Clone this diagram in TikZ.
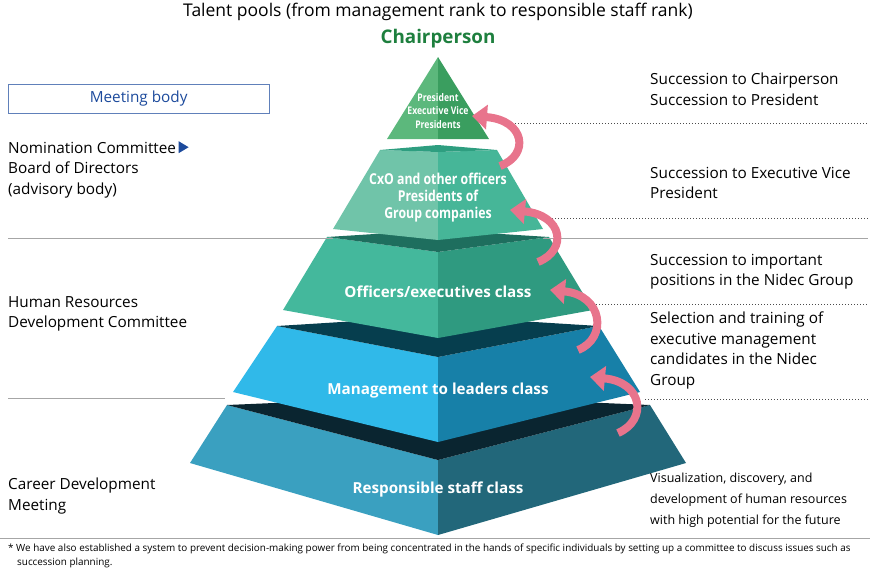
\documentclass[tikz,border=0pt]{standalone}
\usepackage{fontspec}
\setmainfont{Open Sans}
\usetikzlibrary{positioning, arrows.meta}
\definecolor{gA}{HTML}{5CB87C}\definecolor{gB}{HTML}{3A9E5F}
\definecolor{tA}{HTML}{70C4A9}\definecolor{tB}{HTML}{46B698}\definecolor{tT}{HTML}{2E9E80}
\definecolor{oA}{HTML}{44B89C}\definecolor{oB}{HTML}{2F9A80}\definecolor{oT}{HTML}{1E6E5E}
\definecolor{mA}{HTML}{30B9E9}\definecolor{mB}{HTML}{1780A8}\definecolor{mT}{HTML}{063E4E}
\definecolor{rA}{HTML}{3AA0C0}\definecolor{rB}{HTML}{22677A}\definecolor{rT}{HTML}{0A2530}
\definecolor{pinkarr}{HTML}{E8748C}\definecolor{chair}{HTML}{1E7F3E}\definecolor{navy}{HTML}{1C4A9C}
\newcommand{\navytri}{\tikz[x=1pt, y=1pt, baseline=0pt]\fill[navy] (0,0) -- (0,12) -- (10,6) -- cycle;}
\newcommand{\narrow}[1]{\scalebox{0.82}[1]{#1}}
\begin{document}
\begin{tikzpicture}[x=1pt, y=-1pt,
                    tier/.style={text=white, font=\bfseries\fontsize{15.2}{17}\selectfont, align=center},
                    side/.style={anchor=north west, align=left, font=\fontsize{15.3}{20.5}\selectfont, inner sep=0pt},
                    promo/.style={pinkarr, line width=8pt, -{Triangle[length=15pt, width=24pt]}},
                    level/.style={gray!70, line width=0.8pt},
                    dots/.style={black!70, dotted, line width=1pt}]

    \useasboundingbox (0,0) rectangle (870,579);

    % Pyramid faces
    \fill[rA] (227,405) -- (438,460) -- (438,535) -- (190,463) -- cycle;
    \fill[rB] (438,460) -- (650,405) -- (686,463) -- (438,535) -- cycle;
    \fill[rT] (227,405) -- (438,396) -- (650,405) -- (438,460) -- cycle;
    \fill[mA] (277,326) -- (438,357) -- (438,442) -- (233,392) -- cycle;
    \fill[mB] (438,357) -- (599,326) -- (640,392) -- (438,442) -- cycle;
    \fill[mT] (277,326) -- (438,316) -- (599,326) -- (438,357) -- cycle;
    \fill[oA] (327,237) -- (438,252) -- (438,338) -- (283,310) -- cycle;
    \fill[oB] (438,252) -- (549,237) -- (593,310) -- (438,338) -- cycle;
    \fill[oT] (327,237) -- (438,230) -- (549,237) -- (438,252) -- cycle;
    \fill[tA] (380,150) -- (438,152) -- (438,240) -- (333,229) -- cycle;
    \fill[tB] (438,152) -- (497,150) -- (543,229) -- (438,240) -- cycle;
    \fill[tT] (380,150) -- (438,145) -- (497,150) -- (438,152) -- cycle;
    \fill[gA] (438,57) -- (438,139) -- (387,139) -- cycle;
    \fill[gB] (438,57) -- (489,139) -- (438,139) -- cycle;

    % Level lines
    \draw[level] (8,238) -- (333,238);
    \draw[level] (543,238) -- (868,238);
    \draw[level] (8,398) -- (225,398);
    \draw[level] (0,538) -- (870,538);
    \draw[dots] (500,123) -- (868,123);
    \draw[dots] (540,218) -- (868,218);
    \draw[dots] (590,304) -- (868,304);
    \draw[dots] (645,399) -- (868,399);

    % Tier labels
    \node[tier, font=\bfseries\fontsize{10.5}{13.5}\selectfont] (top) at (438,111) {\narrow{President}\\\narrow{Executive Vice}\\\narrow{Presidents}};
    \node[tier, font=\bfseries\fontsize{15}{17}\selectfont] (cxo) at (438,198) {\narrow{CxO and other officers}\\\narrow{Presidents of}\\\narrow{Group companies}};
    \node[tier] (officers) at (438,292) {Officers/executives class};
    \node[tier] (managers) at (438,391) {Management to leaders class};
    \node[tier] (staff) at (438,490) {Responsible staff class};

    % Promotion arrows
    \draw[promo] (500,166) .. controls (530,155) and (525,120) .. (472,116);
    \draw[promo] (538,262) .. controls (568,250) and (563,215) .. (510,210);
    \draw[promo] (578,350) .. controls (608,338) and (603,295) .. (550,290);
    \draw[promo] (618,433) .. controls (648,420) and (643,382) .. (590,377);

    % Titles
    \node[font=\fontsize{17.5}{20}\selectfont] (title) at (438,12) {Talent pools (from management rank to responsible staff rank)};
    \node[font=\bfseries\fontsize{18.8}{21}\selectfont, text=chair] (chairperson) at (438,39) {Chairperson};

    % Meeting bodies
    \node[draw=navy!70, text=navy, minimum width=261pt, minimum height=29pt, anchor=north west,
          font=\fontsize{15.3}{17}\selectfont] (meeting) at (8,84) {Meeting body};
    \node[side] (nomination) at (8,141) {Nomination Committee\,\navytri\\Board of Directors\\(advisory body)};
    \node[side] (hrdc) at (8,296) {Human Resources\\Development Committee};
    \node[side] (career) at (8,478) {Career Development\\Meeting};

    % Succession notes
    \node[side] (succ1) at (650,73) {Succession to Chairperson\\Succession to President};
    \node[side] (succ2) at (650,167) {Succession to Executive Vice\\President};
    \node[side] (succ3) at (650,254) {Succession to important\\positions in the Nidec Group};
    \node[side] (succ4) at (650,312) {Selection and training of\\executive management\\candidates in the Nidec\\Group};
    \node[side, font=\fontsize{12.5}{21}\selectfont] (succ5) at (650,473) {Visualization, discovery, and\\development of human resources\\with high potential for the future};

    % Footnote
    \node[side, font=\fontsize{9.9}{13.5}\selectfont] (note) at (8,544) {* We have also established a system to prevent decision-making power from being concentrated in the hands of specific individuals by setting up a committee to discuss issues such as\\\hspace*{9pt}succession planning.};

\end{tikzpicture}
\end{document}
